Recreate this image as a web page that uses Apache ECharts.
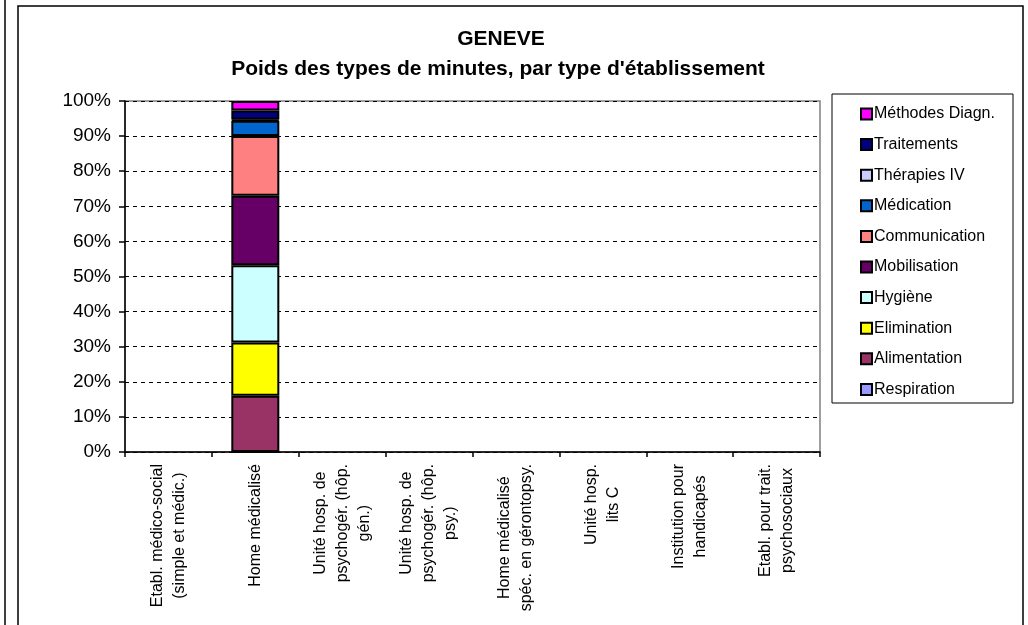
<!DOCTYPE html>
<html>
<head>
<meta charset="utf-8">
<script src="https://cdn.jsdelivr.net/npm/echarts@6/dist/echarts.min.js"></script>
<style>
html,body{margin:0;padding:0;background:#fff;}
#chart{width:1028px;height:625px;}
</style>
</head>
<body>
<div id="chart"></div>
<script>
var categories = [
  "Etabl. médico-social\n(simple et médic.)",
  "Home médicalisé",
  "Unité hosp. de\npsychogér. (hôp.\ngén.)",
  "Unité hosp. de\npsychogér. (hôp.\npsy.)",
  "Home médicalisé\nspéc. en gérontopsy.",
  "Unité hosp.\nlits C",
  "Institution pour\nhandicapés",
  "Etabl. pour trait.\npsychosociaux"
];
var seriesNames = ["Respiration","Alimentation","Elimination","Hygiène","Mobilisation","Communication","Médication","Thérapies IV","Traitements","Méthodes Diagn."];
var seriesColors = ["#9999FF","#993366","#FFFF00","#CCFFFF","#660066","#FF8080","#0066CC","#CCCCFF","#000080","#FF00FF"];
// percentage values per category (only "Home médicalisé" has data)
var respiration   = [null, 0,    null, null, null, null, null, null];
var alimentation  = [null, 16.0, null, null, null, null, null, null];
var elimination   = [null, 15.2, null, null, null, null, null, null];
var hygiene       = [null, 22.0, null, null, null, null, null, null];
var mobilisation  = [null, 19.8, null, null, null, null, null, null];
var communication = [null, 17.0, null, null, null, null, null, null];
var medication    = [null, 4.4,  null, null, null, null, null, null];
var therapiesIV   = [null, 0.3,  null, null, null, null, null, null];
var traitements   = [null, 2.6,  null, null, null, null, null, null];
var methodes      = [null, 2.7,  null, null, null, null, null, null];
var seriesValues = [respiration, alimentation, elimination, hygiene, mobilisation, communication, medication, therapiesIV, traitements, methodes];
var yTicks = [0,10,20,30,40,50,60,70,80,90,100];

var FONT = 'Arial, "Liberation Sans", sans-serif';
var chart = echarts.init(document.getElementById('chart'), null, {renderer:'canvas'});

var series = seriesNames.map(function(name, i){
  return {
    name: name,
    type: 'bar',
    stack: 'total',
    barWidth: 48,
    data: seriesValues[i],
    itemStyle: {color: seriesColors[i], borderColor: '#000', borderWidth: 2},
    emphasis: {disabled: true}
  };
});

chart.setOption({
  animation: false,
  backgroundColor: '#fff',
  textStyle: {fontFamily: FONT},
  title: [
    {text: 'GENEVE', left: 496, textAlign: 'center', top: 24,
     textStyle: {fontFamily: FONT, fontSize: 21, fontWeight: 'bold', color: '#000'}},
    {text: "Poids des types de minutes, par type d'établissement", left: 493, textAlign: 'center', top: 54,
     textStyle: {fontFamily: FONT, fontSize: 21, fontWeight: 'bold', color: '#000'}}
  ],
  graphic: [
    {type: 'rect', shape: {x: 18, y: 6, width: 1005, height: 640}, style: {fill: 'none', stroke: '#000', lineWidth: 1.5}, silent: true, z: -1},
    {type: 'line', shape: {x1: 5, y1: 0, x2: 5, y2: 625}, style: {stroke: '#000', lineWidth: 1.5}, silent: true},
    {type: 'rect', shape: {x: 832, y: 94, width: 181, height: 309}, style: {fill: '#fff', stroke: '#000', lineWidth: 1}, silent: true, z: -1}
  ],
  legend: {
    orient: 'vertical',
    left: 855,
    top: 101,
    itemWidth: 11,
    itemHeight: 11,
    itemGap: 14.6,
    icon: 'rect',
    data: seriesNames.slice().reverse(),
    textStyle: {fontFamily: FONT, fontSize: 16, color: '#000', padding: [0,0,0,-3]},
    selectedMode: false
  },
  grid: {left: 125, right: 208, top: 101, bottom: 173, show: true, borderColor: '#808080', borderWidth: 1.5, containLabel: false},
  xAxis: {
    type: 'category',
    data: categories,
    boundaryGap: true,
    axisLine: {lineStyle: {color: '#000', width: 1.5}},
    axisTick: {show: true, inside: false, length: 5, alignWithLabel: false, lineStyle: {color: '#000', width: 1.5}},
    axisLabel: {
      interval: 0,
      rotate: 90,
      margin: 12,
      color: '#000',
      fontFamily: FONT,
      fontSize: 16,
      formatter: function(v){ return v.split('\n').map(function(l){ return '{c|' + l + '}'; }).join('\n'); },
      rich: {c: {align: 'center', fontFamily: FONT, fontSize: 16, lineHeight: 22, color: '#000'}}
    },
    splitLine: {show: false}
  },
  yAxis: {
    type: 'value',
    min: yTicks[0],
    max: yTicks[yTicks.length - 1],
    interval: 10,
    axisLine: {show: true, lineStyle: {color: '#000', width: 1.5}},
    axisTick: {show: true, length: 6, lineStyle: {color: '#000', width: 1.5}},
    axisLabel: {formatter: '{value}%', color: '#000', fontFamily: FONT, fontSize: 19, margin: 14},
    splitLine: {show: true, lineStyle: {color: '#000', width: 1, type: [4, 4]}}
  },
  series: series
});
</script>
</body>
</html>
